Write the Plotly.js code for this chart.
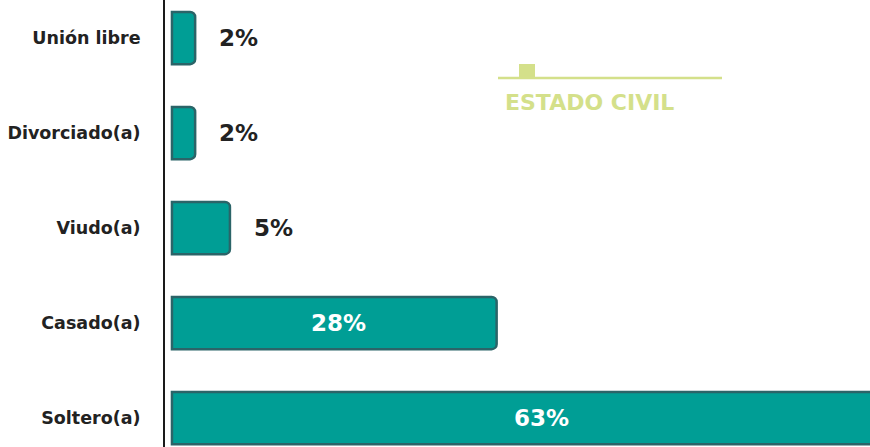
<!DOCTYPE html>
<html>
<head>
<meta charset="utf-8">
<script src="https://cdn.plot.ly/plotly-3.0.1.min.js"></script>
<style>html,body{margin:0;padding:0;background:#fff;}#chart{width:870px;height:447px;}</style>
</head>
<body>
<div id="chart"></div>
<script>
const categories = ["Unión libre", "Divorciado(a)", "Viudo(a)", "Casado(a)", "Soltero(a)"];
const values = [2, 2, 5, 28, 63];
const valueLabels = ["2%", "2%", "5%", "28%", "63%"];
const chartTitle = "ESTADO CIVIL";

const FONT = "DejaVu Sans, Verdana, sans-serif";

const trace = {
  type: "bar",
  orientation: "h",
  y: categories,
  x: values,
  marker: {color: "#009e95", line: {color: "#2b6468", width: 2.5}, cornerradius: 5},
  hoverinfo: "none"
};

// value labels positioned from the data values
const labelAnnotations = values.map((v, i) => {
  const inside = v >= 10;
  return {
    text: valueLabels[i],
    x: inside ? v / 2 : v, y: categories[i],
    xref: "x", yref: "y",
    xanchor: inside ? "center" : "left", yanchor: "middle",
    xshift: inside ? 4 : 22,
    showarrow: false,
    font: {family: FONT, size: 23, color: inside ? "#ffffff" : "#222222", weight: "bold"}
  };
});

const layout = {
  width: 870, height: 447,
  margin: {l: 165, r: 0, t: 0, b: 0},
  paper_bgcolor: "#ffffff", plot_bgcolor: "#ffffff",
  showlegend: false,
  bargap: 0.45,
  xaxis: {range: [-0.6, 60.2], visible: false, fixedrange: true},
  yaxis: {
    type: "category",
    range: [4.305, -0.4],
    showline: true, linecolor: "#1a1a1a", linewidth: 2,
    showgrid: false, zeroline: false, ticks: "",
    ticklabelstandoff: 19,
    tickfont: {family: FONT, size: 17.5, color: "#222222", weight: "bold"}
  },
  shapes: [
    {type: "line", xref: "paper", yref: "paper", x0: (498-165)/705, x1: (722-165)/705, y0: 1-78/447, y1: 1-78/447,
     line: {color: "#d4e08a", width: 2.5}},
    {type: "rect", xref: "paper", yref: "paper", x0: (519-165)/705, x1: (535-165)/705, y0: 1-78/447, y1: 1-64/447,
     fillcolor: "#d4e08a", line: {width: 0}}
  ],
  annotations: labelAnnotations.concat([
    {text: chartTitle, xref: "paper", yref: "paper", x: (503-165)/705, y: 1-102/447, xanchor: "left", yanchor: "middle",
     showarrow: false, font: {family: FONT, size: 22, color: "#d4e08a", weight: "bold"}}
  ])
};

Plotly.newPlot("chart", [trace], layout, {displayModeBar: false, staticPlot: true});
</script>
</body>
</html>
